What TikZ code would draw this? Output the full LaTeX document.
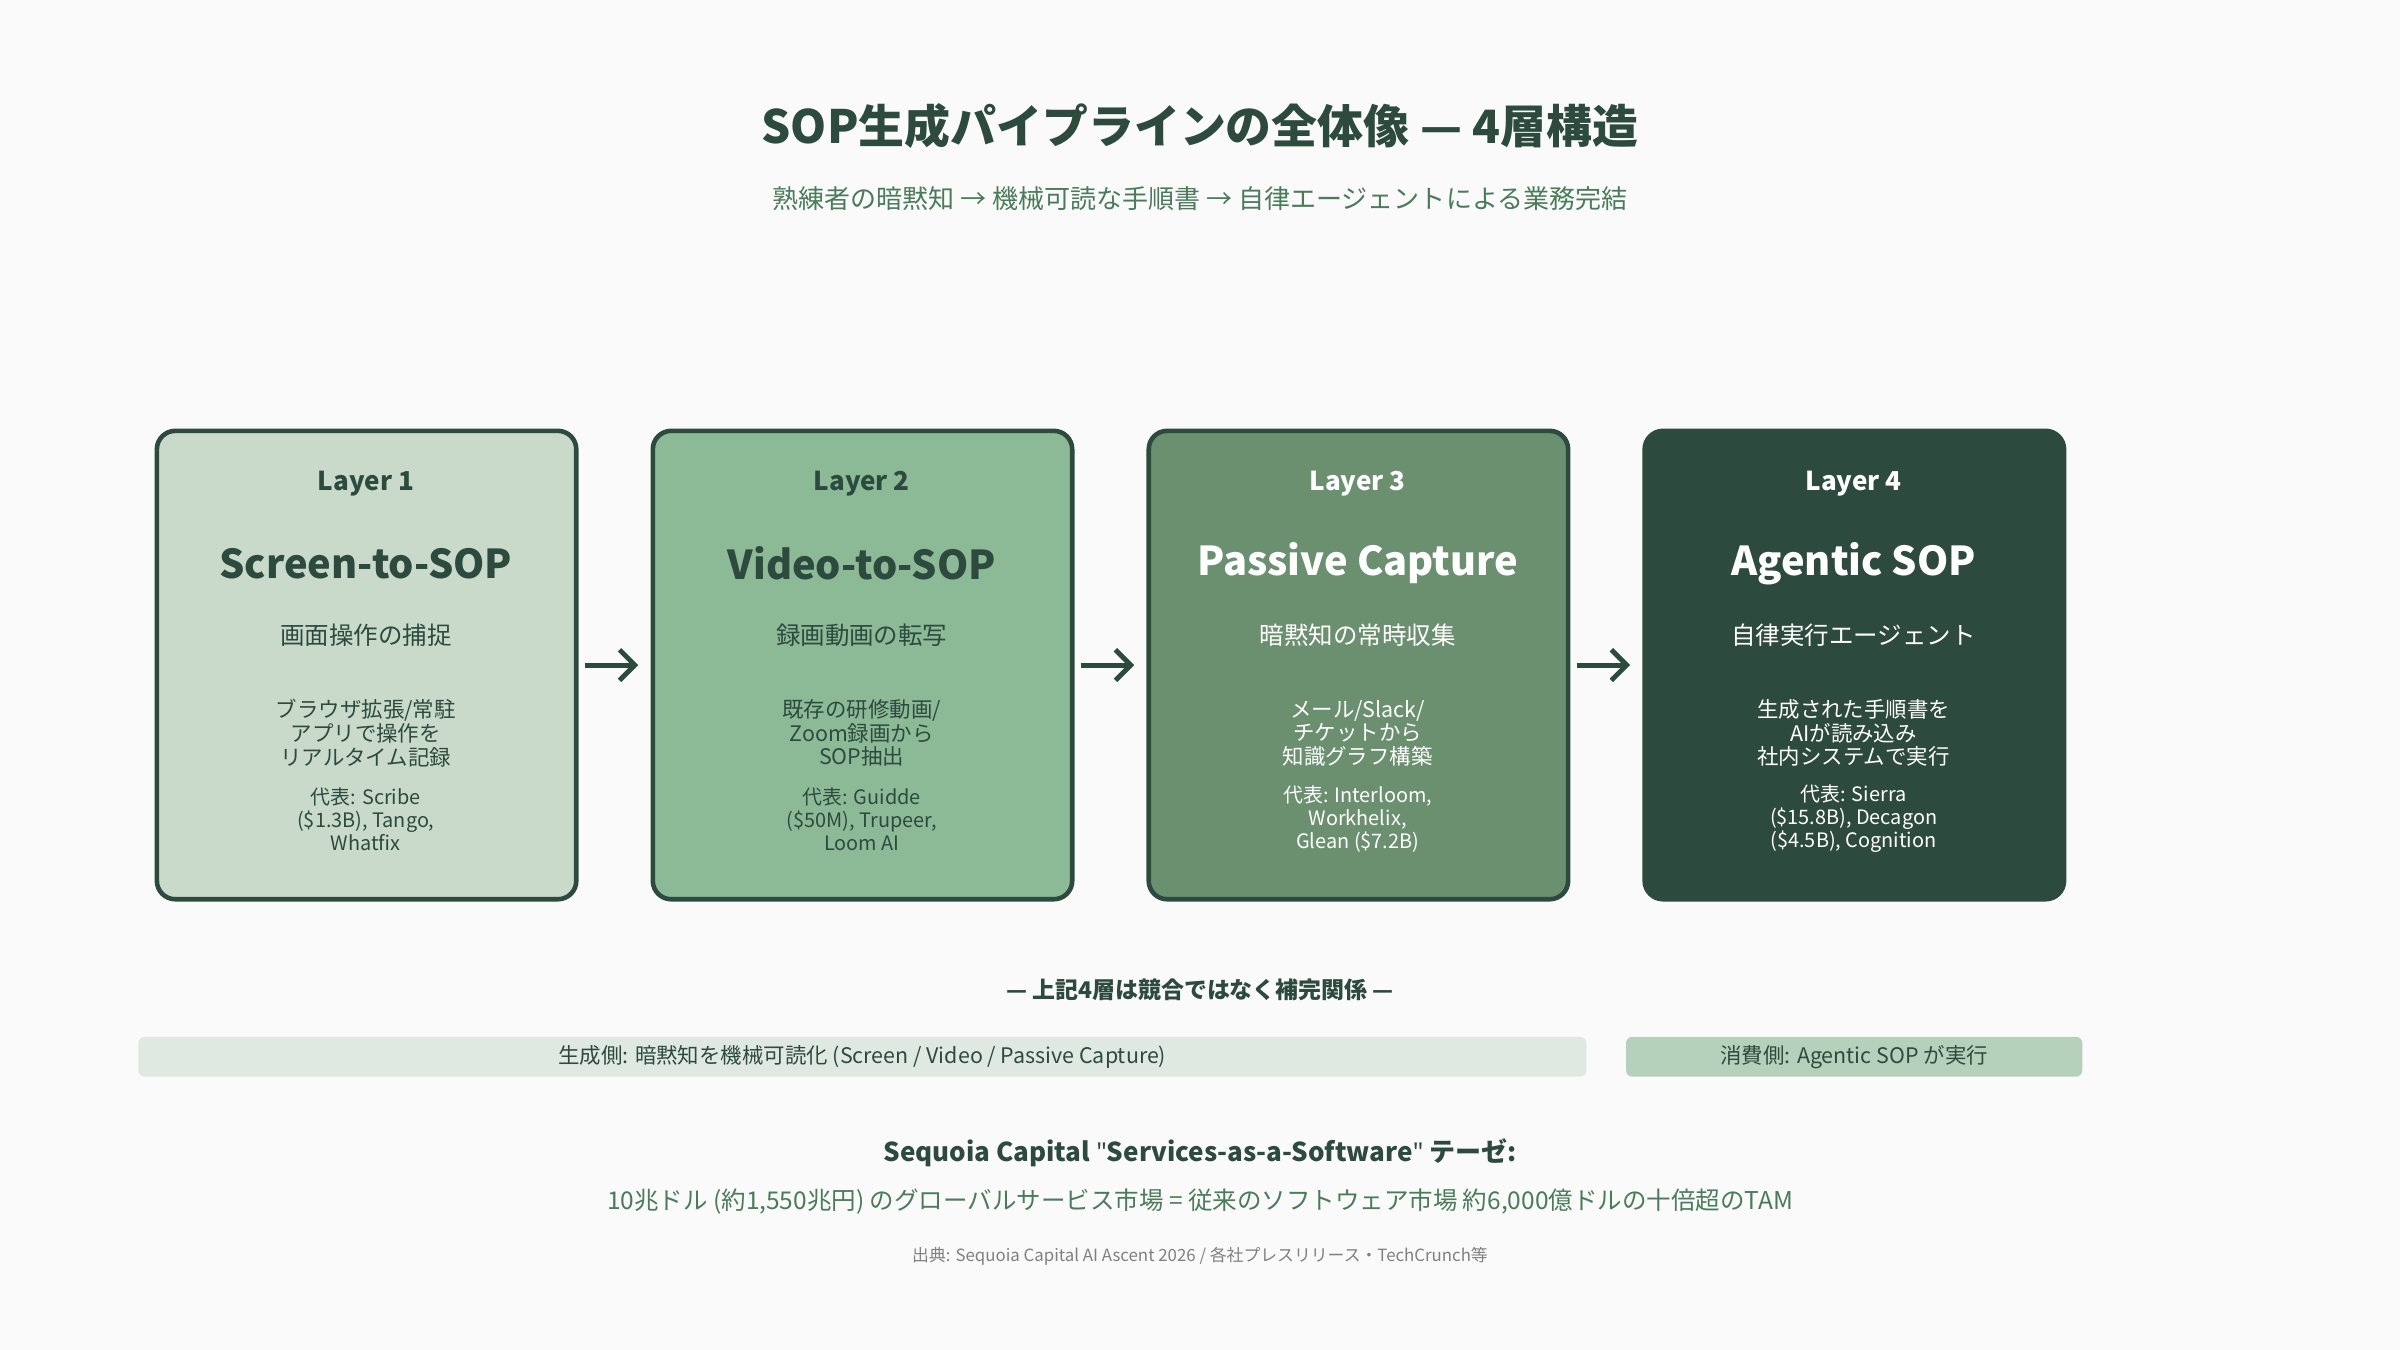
\documentclass[tikz,border=0pt]{standalone}
\usepackage{fontspec}
\setmainfont{Noto Sans CJK JP}
\newfontfamily\latn{Noto Sans}
\usetikzlibrary{arrows.meta}
\definecolor{dk}{HTML}{2D4A3E}
\definecolor{gr}{HTML}{4A7C59}
\definecolor{c1}{HTML}{C9DACB}
\definecolor{c2}{HTML}{8DBA96}
\definecolor{c3}{HTML}{6B9070}
\definecolor{b1}{HTML}{E0E9E1}
\definecolor{b2}{HTML}{B5D1BB}
\definecolor{bg}{HTML}{FAFAFA}
\begin{document}
\begin{tikzpicture}[x=0.5pt,y=-0.5pt,
 box/.style={draw=dk,line width=1.5pt,rounded corners=6pt,minimum width=137pt,minimum height=153pt,anchor=north west,inner sep=0},
 t/.style={align=center,inner sep=0,font=\fontsize{7}{7.8}\selectfont},
 arr/.style={draw=dk,line width=1.6pt,-{Straight Barb[length=5pt,width=10pt]}}]
\fill[bg] (0,0) rectangle (1568,882);
\node[t,text=dk,font=\fontsize{15}{17}\selectfont\bfseries] (title) at (784,82) {SOP生成パイプラインの全体像 — 4層構造};
\node[t,text=gr,font=\fontsize{8.5}{10}\selectfont] (sub) at (784,130) {熟練者の暗黙知 → 機械可読な手順書 → 自律エージェントによる業務完結};
\foreach \i/\x/\f/\tc/\h/\s/\d/\r in {
 1/101/c1/dk/Screen-to-SOP/画面操作の捕捉/{ブラウザ拡張/常駐\\アプリで操作を\\リアルタイム記録}/{代表: Scribe\\(\$1.3B), Tango,\\Whatfix},
 2/425/c2/dk/Video-to-SOP/録画動画の転写/{既存の研修動画/\\Zoom録画から\\SOP抽出}/{代表: Guidde\\(\$50M), Trupeer,\\Loom AI},
 3/749/c3/white/Passive Capture/暗黙知の常時収集/{メール/Slack/\\チケットから\\知識グラフ構築}/{代表: Interloom,\\Workhelix,\\Glean (\$7.2B)},
 4/1073/dk/white/Agentic SOP/自律実行エージェント/{生成された手順書を\\AIが読み込み\\社内システムで実行}/{代表: Sierra\\(\$15.8B), Decagon\\(\$4.5B), Cognition}}{
 \node[box,fill=\f] (L\i) at (\x,280) {};
 \node[t,text=\tc,font=\fontsize{8.5}{10}\selectfont\bfseries] (ly\i) at (\x+138,316) {Layer \i};
 \node[t,text=\tc,font=\fontsize{13}{15}\selectfont\bfseries] (h\i) at (\x+138,368) {\h};
 \node[t,text=\tc,font=\fontsize{8}{9}\selectfont] (s\i) at (\x+138,415) {\s};
 \node[t,text=\tc,font=\fontsize{7}{7.7}\selectfont] (d\i) at (\x+138,479) {\d};
 \node[t,text=\tc,font=\fontsize{6.5}{7.5}\selectfont] (r\i) at (\x+138,535) {\r};
}
\draw[arr] ([xshift=2pt]L1.east) -- ([xshift=-4pt]L2.west);
\draw[arr] ([xshift=2pt]L2.east) -- ([xshift=-4pt]L3.west);
\draw[arr] ([xshift=2pt]L3.east) -- ([xshift=-4pt]L4.west);
\node[t,text=dk,font=\fontsize{7.5}{9}\selectfont\bfseries] (comp) at (784,647) {— 上記4層は競合ではなく補完関係 —};
\node[fill=b1,rounded corners=2pt,minimum width=473pt,minimum height=13pt,inner sep=0,anchor=north west,text=dk,font=\fontsize{7}{8}\selectfont] (gen) at (90,677) {生成側: 暗黙知を機械可読化 (Screen / Video / Passive Capture)};
\node[fill=b2,rounded corners=2pt,minimum width=149pt,minimum height=13pt,inner sep=0,anchor=north west,text=dk,font=\fontsize{7}{8}\selectfont] (con) at (1062,677) {消費側: Agentic SOP が実行};
\node[t,text=dk,font=\fontsize{8.5}{10}\selectfont\bfseries] (seq) at (784,753) {Sequoia Capital {\latn\symbol{34}}Services-as-a-Software{\latn\symbol{34}} テーゼ:};
\node[t,text=gr,font=\fontsize{8}{9}\selectfont] (tam) at (784,785) {10兆ドル (約1,550兆円) のグローバルサービス市場 = 従来のソフトウェア市場 約6,000億ドルの十倍超のTAM};
\node[t,text=gray,font=\fontsize{5.5}{6.5}\selectfont] (src) at (784,821) {出典: Sequoia Capital AI Ascent 2026 / 各社プレスリリース・TechCrunch等};
\end{tikzpicture}
\end{document}
